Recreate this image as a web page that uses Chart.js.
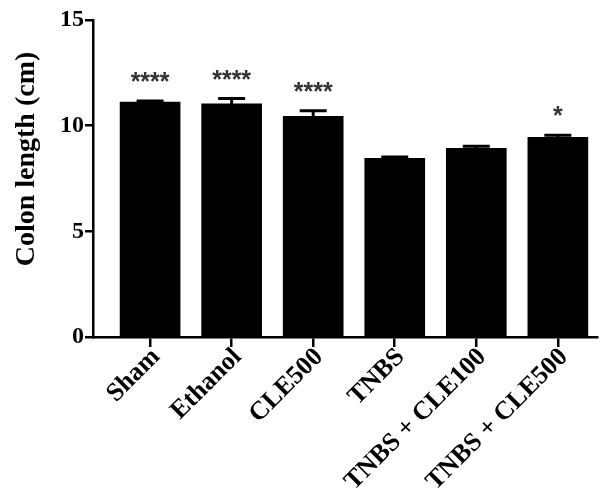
<!DOCTYPE html>
<html>
<head>
<meta charset="utf-8">
<script src="https://cdn.jsdelivr.net/npm/chart.js@4/dist/chart.umd.min.js"></script>
<style>
  html, body { margin: 0; padding: 0; background: #fff; }
  #wrap { width: 605px; height: 500px; position: relative; }
</style>
</head>
<body>
<div id="wrap"><canvas id="c"></canvas></div>
<script>
// groups and values
const groups = ['Sham', 'Ethanol', 'CLE500', 'TNBS', 'TNBS + CLE100', 'TNBS + CLE500'];
const colonLength = [11.12, 11.03, 10.44, 8.46, 8.93, 9.45];
const colonSem = [0.05, 0.25, 0.26, 0.06, 0.10, 0.10];
const stars = ['****', '****', '****', '', '', '*'];
const yTicks = [0, 5, 10, 15];

const serif = '"Liberation Serif", "DejaVu Serif", serif';

// error bars (upper half only, like the original) + significance marks
const errorBars = {
  id: 'errorBars',
  afterDatasetsDraw(chart) {
    const { ctx, scales: { x, y } } = chart;
    ctx.save();
    ctx.strokeStyle = '#000';
    ctx.lineWidth = 3;
    colonLength.forEach((v, i) => {
      const px = x.getPixelForValue(i);
      const top = y.getPixelForValue(v + colonSem[i]);
      const base = y.getPixelForValue(v);
      ctx.beginPath();
      ctx.moveTo(px, base);
      ctx.lineTo(px, top);
      ctx.moveTo(px - 13.5, top);
      ctx.lineTo(px + 13.5, top);
      ctx.stroke();
      if (stars[i]) {
        ctx.fillStyle = '#333';
        ctx.font = 'bold 25px "Liberation Sans", Arial, sans-serif';
        ctx.textAlign = 'center';
        ctx.textBaseline = 'middle';
        ctx.fillText(stars[i], px, top - 18);
      }
    });
    ctx.restore();
  }
};

// vertical axis title
const yTitle = {
  id: 'yTitle',
  afterDraw(chart) {
    const { ctx } = chart;
    ctx.save();
    ctx.translate(27, 159);
    ctx.rotate(-Math.PI / 2);
    ctx.fillStyle = '#000';
    ctx.font = 'bold 28px ' + serif;
    ctx.textAlign = 'center';
    ctx.textBaseline = 'middle';
    ctx.fillText('Colon length (cm)', 0, 0);
    ctx.restore();
  }
};

new Chart(document.getElementById('c'), {
  type: 'bar',
  data: {
    datasets: [{
      data: colonLength.map((v, i) => ({ x: i, y: v })),
      backgroundColor: '#000',
      borderWidth: 0,
      barThickness: 60,
    }],
  },
  options: {
    responsive: true,
    maintainAspectRatio: false,
    animation: false,
    layout: { padding: { top: 20, right: 8, left: 0, bottom: 0 } },
    plugins: { legend: { display: false }, tooltip: { enabled: false } },
    scales: {
      x: {
        type: 'linear',
        offset: false,
        min: -0.7,
        max: 5.48,
        afterBuildTicks: (s) => { s.ticks = groups.map((g, i) => ({ value: i })); },
        afterFit: (s) => { s.height = 163; },
        grid: { offset: false, drawOnChartArea: false, drawTicks: true, tickLength: 10, color: '#000', lineWidth: 2.5 },
        border: { color: '#000', width: 2.5 },
        ticks: {
          autoSkip: false,
          minRotation: 45,
          maxRotation: 45,
          padding: -5,
          labelOffset: 6,
          color: '#000',
          font: { family: serif, size: 26, weight: 'bold' },
          callback: (v) => groups[v],
        },
      },
      y: {
        min: 0,
        max: 15,
        afterBuildTicks: (s) => { s.ticks = yTicks.map(v => ({ value: v })); },
        afterFit: (s) => { s.width = 93; },
        grid: { drawOnChartArea: false, drawTicks: true, tickLength: 8, color: '#000', lineWidth: 2.5 },
        border: { color: '#000', width: 2.5 },
        ticks: {
          padding: 1,
          color: '#000',
          font: { family: serif, size: 24, weight: 'bold' },
        },
      },
    },
  },
  plugins: [errorBars, yTitle],
});
</script>
</body>
</html>
